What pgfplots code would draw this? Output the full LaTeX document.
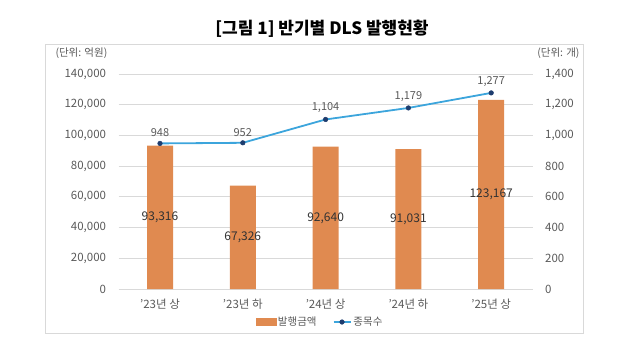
\documentclass[border=0pt]{standalone}
\usepackage{pgfplots}
\pgfplotsset{compat=1.18}
\usepackage{pgfplotstable}
\usepackage{fontspec}
\setmainfont{Noto Sans CJK KR}
\definecolor{barorange}{RGB}{224,138,80}
\definecolor{lineblue}{RGB}{60,165,220}
\definecolor{markblue}{RGB}{30,60,110}
\definecolor{gridgray}{RGB}{217,217,217}
\definecolor{txtgray}{RGB}{89,89,89}
\definecolor{lblgray}{RGB}{50,50,50}

\pgfplotstableread{
x amount half label
0 93316 46658 93,316
1 67326 33663 67,326
2 92640 46320 92,640
3 91031 45515.5 91,031
4 123167 61583.5 123,167
}\amounttable
\pgfplotstableread{
x count label
0 948 948
1 952 952
2 1104 1,104
3 1179 1,179
4 1277 1,277
}\counttable

\pgfplotsset{
  common/.style={
    at={(118.6pt,68pt)}, anchor=south west,
    scale only axis, width=414pt, height=215pt,
    xmin=-0.5, xmax=4.5,
    axis line style={draw=none},
    major tick length=0pt,
    scaled y ticks=false,
    tick label style={font=\fontsize{11.5}{13}\selectfont, text=txtgray},
  }
}

\begin{document}
\begin{tikzpicture}[x=1pt,y=1pt]
\path[use as bounding box] (0,0) rectangle (640,357);
\draw[gridgray, line width=0.8pt] (45,24) rectangle (583,313);
\node[font=\fontsize{17}{20}\selectfont\bfseries] at (322,328) {[그림 1] 반기별 DLS 발행현황};
\node[anchor=west, font=\fontsize{10.5}{12}\selectfont, text=txtgray] at (52,304) {(단위: 억원)};
\node[anchor=east, font=\fontsize{10.5}{12}\selectfont, text=txtgray] at (583,304) {(단위: 개)};

\begin{axis}[common,
  ymin=0, ymax=140000,
  ytick={0,20000,40000,60000,80000,100000,120000,140000},
  yticklabels={0,{20,000},{40,000},{60,000},{80,000},{100,000},{120,000},{140,000}},
  ymajorgrids, grid style={gridgray, line width=0.8pt},
  xtick={0,1,2,3,4},
  xticklabels={’23년 상,’23년 하,’24년 상,’24년 하,’25년 상},
  yticklabel style={xshift=-9pt},
  xticklabel style={yshift=-6pt},
]
\addplot[ybar, bar width=26pt, fill=barorange, draw=none] table[x=x,y=amount]{\amounttable};
\addplot[draw=none, mark=none, nodes near coords, point meta=explicit symbolic,
  nodes near coords style={anchor=center, text=lblgray, font=\fontsize{12}{14}\selectfont}]
  table[x=x,y=half,meta=label]{\amounttable};
\end{axis}

\begin{axis}[common,
  ymin=0, ymax=1400,
  ytick={0,200,400,600,800,1000,1200,1400},
  yticklabels={0,200,400,600,800,{1,000},{1,200},{1,400}},
  yticklabel pos=right,
  xtick=\empty,
  yticklabel style={xshift=9pt},
  legend columns=2,
  legend style={at={(0.4865,-0.1535)}, anchor=center, draw=none, fill=none,
    font=\fontsize{10.5}{12}\selectfont, text=txtgray,
    /tikz/every even column/.append style={column sep=14pt}},
]
\addlegendimage{legend image code/.code={\fill[barorange] (0pt,-3.5pt) rectangle (20pt,3.5pt);}}
\addlegendentry{발행금액}
\addplot[lineblue, line width=1.8pt, mark=*, mark size=2.3pt,
  mark options={fill=markblue, draw=markblue, line width=0.5pt},
  nodes near coords, point meta=explicit symbolic,
  nodes near coords style={anchor=south, yshift=3pt, text=txtgray, font=\fontsize{11}{13}\selectfont}]
  table[x=x,y=count,meta=label]{\counttable};
\addlegendentry{종목수}
\end{axis}
\end{tikzpicture}
\end{document}
